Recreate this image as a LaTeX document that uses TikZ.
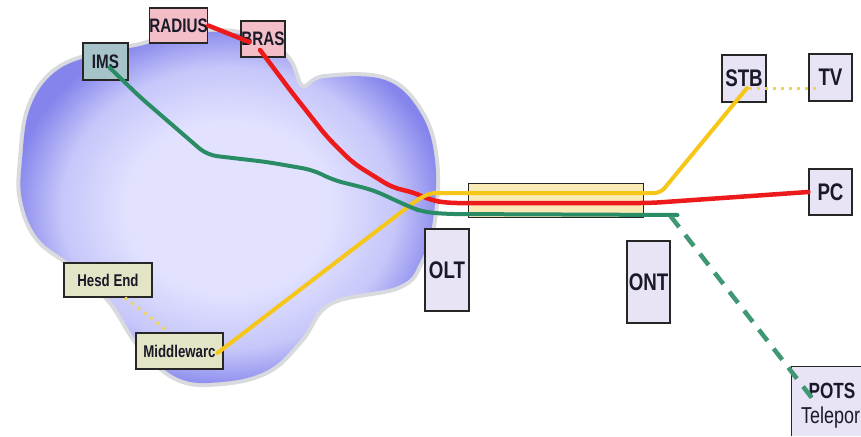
\documentclass[tikz,border=0pt]{standalone}
\usepackage{fontspec}
\usetikzlibrary{calc}
\newfontfamily\lab[FakeStretch=0.78]{Liberation Sans}
\definecolor{cloudin}{RGB}{226,226,255}
\definecolor{cloudmid}{RGB}{198,198,250}
\definecolor{cloudout}{RGB}{132,132,236}
\definecolor{halo}{RGB}{216,218,222}
\definecolor{boxlav}{RGB}{232,228,246}
\definecolor{boxpink}{RGB}{243,190,200}
\definecolor{boxteal}{RGB}{165,195,200}
\definecolor{boxyel}{RGB}{228,228,198}
\definecolor{tubefill}{RGB}{250,234,182}
\definecolor{lred}{RGB}{236,26,26}
\definecolor{lyel}{RGB}{246,198,24}
\definecolor{ldot}{RGB}{240,212,90}
\definecolor{lgreen}{RGB}{42,140,100}
\definecolor{txt}{RGB}{25,25,40}
\pgfdeclareradialshading{cloudshade}{\pgfpoint{0bp}{0bp}}{color(0bp)=(cloudin); color(12bp)=(cloudin); color(20bp)=(cloudmid); color(26bp)=(cloudout); color(50bp)=(cloudout)}
\tikzset{
  box/.style={draw=black!85, line width=1.3pt, inner sep=0pt, text=txt,
    font=\lab\bfseries\fontsize{24}{26}\selectfont},
  smallbox/.style={box, font=\lab\bfseries\fontsize{19.5}{21}\selectfont},
  tinybox/.style={box, font=\lab\bfseries\fontsize{17}{19}\selectfont},
  redline/.style={draw=lred, line width=4.5pt, rounded corners=10pt, line cap=round},
  yelline/.style={draw=lyel, line width=4pt, rounded corners=6pt, line cap=round},
  grnline/.style={draw=lgreen, line width=4pt, rounded corners=10pt, line cap=round},
  grndash/.style={draw=lgreen!90!white, line width=4.5pt, dash pattern=on 14pt off 10pt},
  dotline/.style={draw=ldot, line width=3pt, dash pattern=on 3pt off 5pt}
}
\begin{document}
\begin{tikzpicture}[x=1pt,y=-1pt]
\useasboundingbox (0,0) rectangle (861,436);
\fill[white] (0,0) rectangle (861,436);
% cloud
\path[preaction={draw=halo, line width=8pt}, shading=cloudshade]
  plot[smooth cycle, tension=0.65] coordinates {
  (22,160) (30,108) (55,72) (95,55) (140,46) (175,36) (220,32) (262,40) (288,60)
  (302,88) (325,78) (385,80) (420,112) (435,160) (433,220) (420,262) (398,286)
  (330,302) (300,340) (268,370) (222,382) (178,378) (140,345) (110,300) (72,265)
  (38,238) (22,200)};
% boxes
\node[smallbox, fill=boxpink, minimum width=53pt, minimum height=35pt] (radius) at (178.5,25.5) {RADIUS};
\node[smallbox, fill=boxpink, minimum width=44pt, minimum height=36pt] (bras) at (263,39) {BRAS};
\node[smallbox, fill=boxteal, minimum width=45pt, minimum height=37pt] (ims) at (105.5,61.5) {IMS};
\node[tinybox, fill=boxyel, minimum width=88pt, minimum height=34pt] (hesd) at (108,280) {Hesd End};
\node[tinybox, fill=boxyel, minimum width=87pt, minimum height=36pt] (mid) at (179.5,351) {Middlewarc};
\node[box, fill=boxlav, minimum width=44pt, minimum height=82pt] (olt) at (447,270) {OLT};
\node[box, fill=boxlav, minimum width=43pt, minimum height=82pt] (ont) at (648.5,282) {ONT};
\node[box, fill=tubefill, line width=1pt, minimum width=175pt, minimum height=34pt] (tube) at (555.5,200) {};
\node[box, fill=boxlav, minimum width=44pt, minimum height=47pt] (stb) at (744,78.5) {STB};
\node[box, fill=boxlav, minimum width=43pt, minimum height=47pt] (tv) at (830.5,77.5) {TV};
\node[box, fill=boxlav, minimum width=43pt, minimum height=46pt] (pc) at (830.5,192) {PC};
\node[fill=boxlav, inner sep=0pt, minimum width=69pt, minimum height=69pt] (pots) at (826.5,401.5) {};
\draw[black!85, line width=1.3pt] (pots.south west) -- (pots.north west) -- (pots.north east);
\node[font=\lab\bfseries\fontsize{22}{24}\selectfont, text=txt, anchor=center] (potst) at (832,391) {POTS};
\node[font=\lab\fontsize{23}{25}\selectfont, text=txt, anchor=west, inner sep=0pt] (telet) at (801,418) {Telepor};
% connectors
\draw[redline] (radius.east) -- ($(bras.west)+(9,3)$);
\draw[redline] ($(bras.center)+(-3,11)$) -- (290,90) -- (327,137) -- (353,163) -- (393,188)
  -- (413,192) -- (430,200) -- (447,203) -- ($(tube.east)+(7,3)$) -- (pc.west);
\draw[yelline] ($(mid.center)+(38,2)$) -- (417,200) -- (430,193) -- ($(tube.east)+(17,-7)$)
  -- ($(stb.center)+(3,9.5)$);
\draw[grnline] ($(ims.center)+(4,6)$) -- (140,97) -- (207,155) -- (267,162) -- (313,170)
  -- (333,180) -- (373,190) -- (410,207) -- (423,212) -- (447,214) -- ($(tube.east)+(34,15)$);
\draw[grndash] ($(tube.east)+(27,16)$) -- ($(pots.north west)+(20,31)$);
\draw[dotline] ($(stb.center)+(5,9.5)$) -- ($(tv.center)+(-10,10.5)$);
\draw[dotline] ($(hesd.south)+(17,0)$) -- ($(mid.north)+(-14,-3)$);
\end{tikzpicture}
\end{document}
